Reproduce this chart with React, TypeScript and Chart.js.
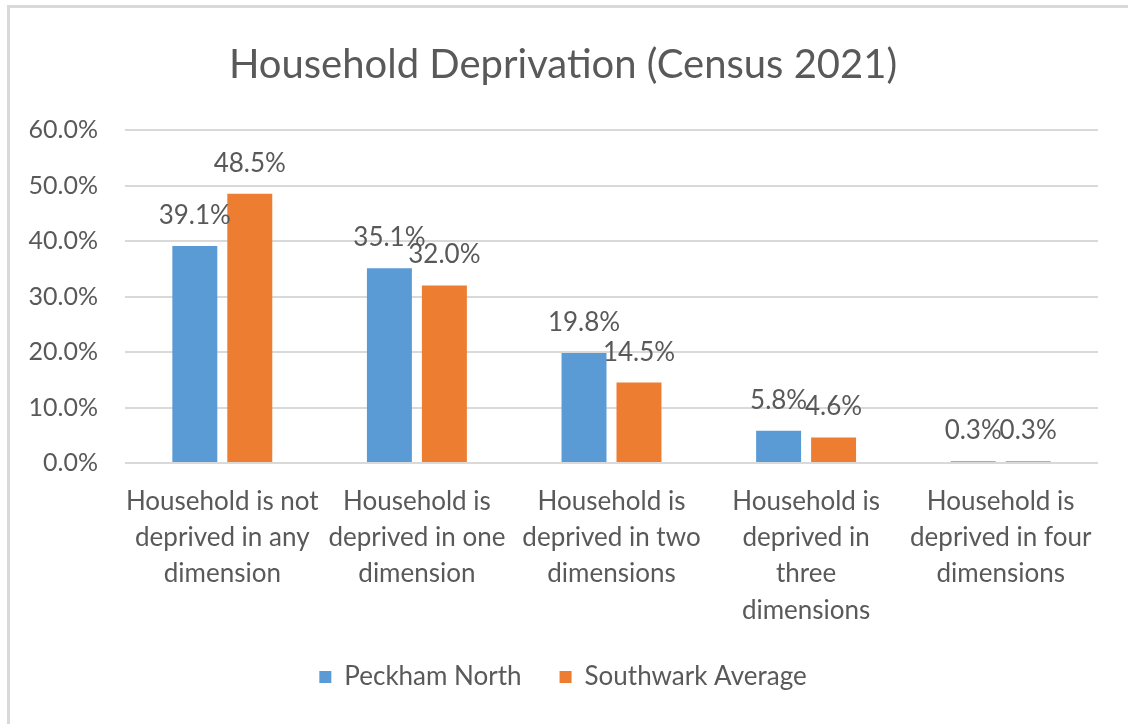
import React, { useEffect, useRef } from "react";
import { Chart, registerables } from "chart.js";

Chart.register(...registerables);

const categories: string[][] = [
  ["Household is not", "deprived in any", "dimension"],
  ["Household is", "deprived in one", "dimension"],
  ["Household is", "deprived in two", "dimensions"],
  ["Household is", "deprived in", "three", "dimensions"],
  ["Household is", "deprived in four", "dimensions"],
];
const peckhamNorth = [39.1, 35.1, 19.8, 5.8, 0.3];
const southwarkAverage = [48.5, 32.0, 14.5, 4.6, 0.3];
const seriesNames = ["Peckham North", "Southwark Average"];
const titleText = "Household Deprivation (Census 2021)";

const FONT = "Lato, 'Open Sans', sans-serif";
const TEXT = "#595959";

const dataLabels = {
  id: "dataLabels",
  afterDatasetsDraw(chart: any) {
    const ctx = chart.ctx;
    ctx.save();
    ctx.font = `26px ${FONT}`;
    ctx.fillStyle = TEXT;
    ctx.textAlign = "center";
    ctx.textBaseline = "alphabetic";
    chart.data.datasets.forEach((ds: any, i: number) => {
      const meta = chart.getDatasetMeta(i);
      meta.data.forEach((el: any, j: number) => {
        const v = ds.data[j] as number;
        ctx.fillText(v.toFixed(1) + "%", el.x, el.y - 22);
      });
    });
    ctx.restore();
  },
};

export default function App() {
  const ref = useRef<HTMLCanvasElement>(null);
  useEffect(() => {
    if (!ref.current) return;
    const chart = new Chart(ref.current, {
      type: "bar",
      data: {
        labels: categories,
        datasets: [
          {
            label: seriesNames[0],
            data: peckhamNorth,
            backgroundColor: "#5B9BD5",
            categoryPercentage: 0.565,
            barPercentage: 0.818,
          },
          {
            label: seriesNames[1],
            data: southwarkAverage,
            backgroundColor: "#ED7D31",
            categoryPercentage: 0.565,
            barPercentage: 0.818,
          },
        ],
      },
      options: {
        animation: false,
        responsive: true,
        maintainAspectRatio: false,
        layout: { padding: { left: 28, right: 30, top: 28, bottom: 24 } },
        plugins: {
          title: {
            display: true,
            text: titleText,
            color: TEXT,
            font: { family: FONT, size: 40, weight: "normal", lineHeight: 1.2 },
            padding: { top: 13, bottom: 41 },
          },
          legend: {
            position: "bottom",
            labels: {
              boxWidth: 12,
              boxHeight: 12,
              padding: 38,
              color: TEXT,
              font: { family: FONT, size: 26 },
            },
          },
          tooltip: { enabled: false },
        },
        scales: {
          x: {
            grid: { display: false, drawTicks: false },
            border: { display: false },
            afterFit: (s: any) => {
              s.height = 163;
            },
            ticks: {
              color: TEXT,
              font: { family: FONT, size: 26, lineHeight: 1.4 },
              padding: 20,
              maxRotation: 0,
              autoSkip: false,
            },
          },
          y: {
            min: 0,
            max: 60,
            grid: { color: "#d9d9d9", lineWidth: 2, drawTicks: false },
            border: { display: false },
            afterFit: (s: any) => {
              s.width = 97;
            },
            ticks: {
              stepSize: 10,
              color: TEXT,
              padding: 27,
              font: { family: FONT, size: 25 },
              callback: (v: any) => Number(v).toFixed(1) + "%",
            },
          },
        },
      },
      plugins: [dataLabels],
    });
    return () => chart.destroy();
  }, []);
  return (
    <div
      style={{
        position: "fixed",
        left: 7,
        top: 5,
        width: 1140,
        height: 740,
        border: "3px solid #d9d9d9",
        boxSizing: "border-box",
        background: "#fff",
      }}
    >
      <div style={{ position: "fixed", left: 0, top: 0, width: 1128, height: 724 }}>
        <canvas ref={ref} />
      </div>
    </div>
  );
}
